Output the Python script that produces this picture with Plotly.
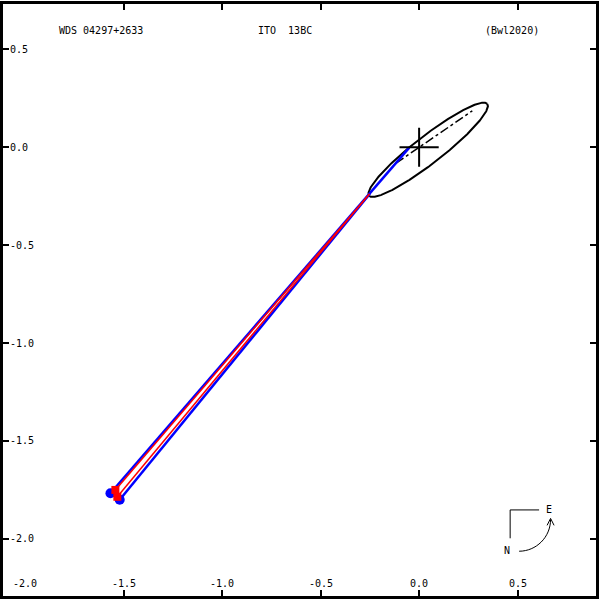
import numpy as np
import plotly.graph_objects as go

# ---- data ----
# apparent orbit (ellipse parameters, arcsec / degrees)
orbit_center_x = 0.046
orbit_center_y = -0.013
orbit_semi_major = 0.381
orbit_semi_minor = 0.070
orbit_angle_deg = 38.0

# line of nodes (through primary)
nodes_x = [-0.117, 0.27]
nodes_y = [-0.081, 0.186]

# primary
primary_x = [0.0]
primary_y = [0.0]

# observations
blue_obs_x = [-1.567, -1.520]
blue_obs_y = [-1.767, -1.800]
red_obs_x = [-1.542, -1.532]
red_obs_y = [-1.750, -1.785]

# predicted positions on orbit (O-C line ends)
blue_pred_x = [-0.050, -0.250]
blue_pred_y = [-0.002, -0.237]
red_pred_x = [-0.252, -0.252]
red_pred_y = [-0.238, -0.238]

tick_vals = [-2.0, -1.5, -1.0, -0.5, 0.0, 0.5]
tick_text = ["-2.0", "-1.5", "-1.0", "-0.5", "0.0", "0.5"]

title_left = "WDS 04297+2633"
title_mid = "ITO\u00a0\u00a013BC"
title_right = "(Bwl2020)"

FONT = "DejaVu Sans Mono"
FS = 10

fig = go.Figure()

# orbit ellipse
t = np.linspace(0, 2 * np.pi, 400)
th = np.radians(orbit_angle_deg)
ex = orbit_center_x + orbit_semi_major * np.cos(t) * np.cos(th) - orbit_semi_minor * np.sin(t) * np.sin(th)
ey = orbit_center_y + orbit_semi_major * np.cos(t) * np.sin(th) + orbit_semi_minor * np.sin(t) * np.cos(th)
fig.add_trace(go.Scatter(x=ex, y=ey, mode="lines", line=dict(color="black", width=2), hoverinfo="skip"))

# line of nodes
fig.add_trace(go.Scatter(x=nodes_x, y=nodes_y, mode="lines",
                         line=dict(color="black", width=1.5, dash="dashdot"), hoverinfo="skip"))

# O-C lines
for ox, oy, px, py in zip(blue_obs_x, blue_obs_y, blue_pred_x, blue_pred_y):
    fig.add_trace(go.Scatter(x=[ox, px], y=[oy, py], mode="lines",
                             line=dict(color="#0000ff", width=2.5), hoverinfo="skip"))
for ox, oy, px, py in zip(red_obs_x, red_obs_y, red_pred_x, red_pred_y):
    fig.add_trace(go.Scatter(x=[ox, px], y=[oy, py], mode="lines",
                             line=dict(color="#ff0000", width=1.5), hoverinfo="skip"))

# observation markers
fig.add_trace(go.Scatter(x=blue_obs_x, y=blue_obs_y, mode="markers",
                         marker=dict(color="#0000ff", size=10, symbol="circle"), hoverinfo="skip"))
fig.add_trace(go.Scatter(x=red_obs_x, y=red_obs_y, mode="markers",
                         marker=dict(color="#ff0000", size=8, symbol="square"), hoverinfo="skip"))

# primary cross
fig.add_trace(go.Scatter(x=primary_x, y=primary_y, mode="markers",
                         marker=dict(symbol="cross-thin", size=28, line=dict(color="black", width=2)),
                         hoverinfo="skip"))

# layout geometry helpers (pixel -> paper)
ML, MR, MT, MB = 3, 3, 1, 4
W = H = 600
def pxx(p):
    return (p - ML) / (W - ML - MR)
def pxy(p):
    return (H - MB - p) / (H - MT - MB)

axis_common = dict(
    showgrid=False, zeroline=False, showline=True, linewidth=3, linecolor="black",
    mirror="ticks", ticks="inside", ticklen=6, tickwidth=1.5, tickcolor="black",
    tickvals=tick_vals,
)

fig.update_layout(
    width=W, height=H,
    margin=dict(l=ML, r=MR, t=MT, b=MB),
    paper_bgcolor="white", plot_bgcolor="white",
    showlegend=False,
    xaxis=dict(range=[-2.1125, 0.898], showticklabels=False, **axis_common),
    yaxis=dict(range=[-2.2917, 0.7317], ticktext=tick_text, ticklabelposition="inside",
               tickfont=dict(family=FONT, size=FS, color="black"), **axis_common),
)

# x tick labels (inside, above bottom axis)
for v, s in zip(tick_vals, tick_text):
    fig.add_annotation(x=v, y=pxy(583), xref="x", yref="paper", text=s, showarrow=False,
                       xanchor="center", yanchor="middle", font=dict(family=FONT, size=FS, color="black"))

for txt, cx in [(title_left, 101), (title_mid, 285), (title_right, 513)]:
    fig.add_annotation(x=pxx(cx), y=pxy(28), xref="paper", yref="paper", text=txt,
                       showarrow=False, xanchor="center", yanchor="middle",
                       font=dict(family=FONT, size=FS, color="black"))

# compass
fig.add_shape(type="path", xref="paper", yref="paper",
              path=f"M {pxx(540)},{pxy(509.5)} L {pxx(511)},{pxy(509.5)} L {pxx(511)},{pxy(538)}",
              line=dict(color="black", width=1))
fig.add_shape(type="path", xref="paper", yref="paper",
              path=(f"M {pxx(520)},{pxy(551)} C {pxx(537)},{pxy(551)} {pxx(551.5)},{pxy(537)} "
                    f"{pxx(551.5)},{pxy(519)}"),
              line=dict(color="black", width=1))
fig.add_shape(type="path", xref="paper", yref="paper",
              path=f"M {pxx(548)},{pxy(525)} L {pxx(551.5)},{pxy(518)} L {pxx(555)},{pxy(525)}",
              line=dict(color="black", width=1))
fig.add_annotation(x=pxx(550), y=pxy(509), xref="paper", yref="paper", text="E", showarrow=False,
                   xanchor="center", yanchor="middle", font=dict(family=FONT, size=FS, color="black"))
fig.add_annotation(x=pxx(508), y=pxy(550), xref="paper", yref="paper", text="N", showarrow=False,
                   xanchor="center", yanchor="middle", font=dict(family=FONT, size=FS, color="black"))

fig.write_html("out.html", config={"displayModeBar": False},
               post_script="document.body.style.margin='0px';document.body.style.overflow='hidden';")
